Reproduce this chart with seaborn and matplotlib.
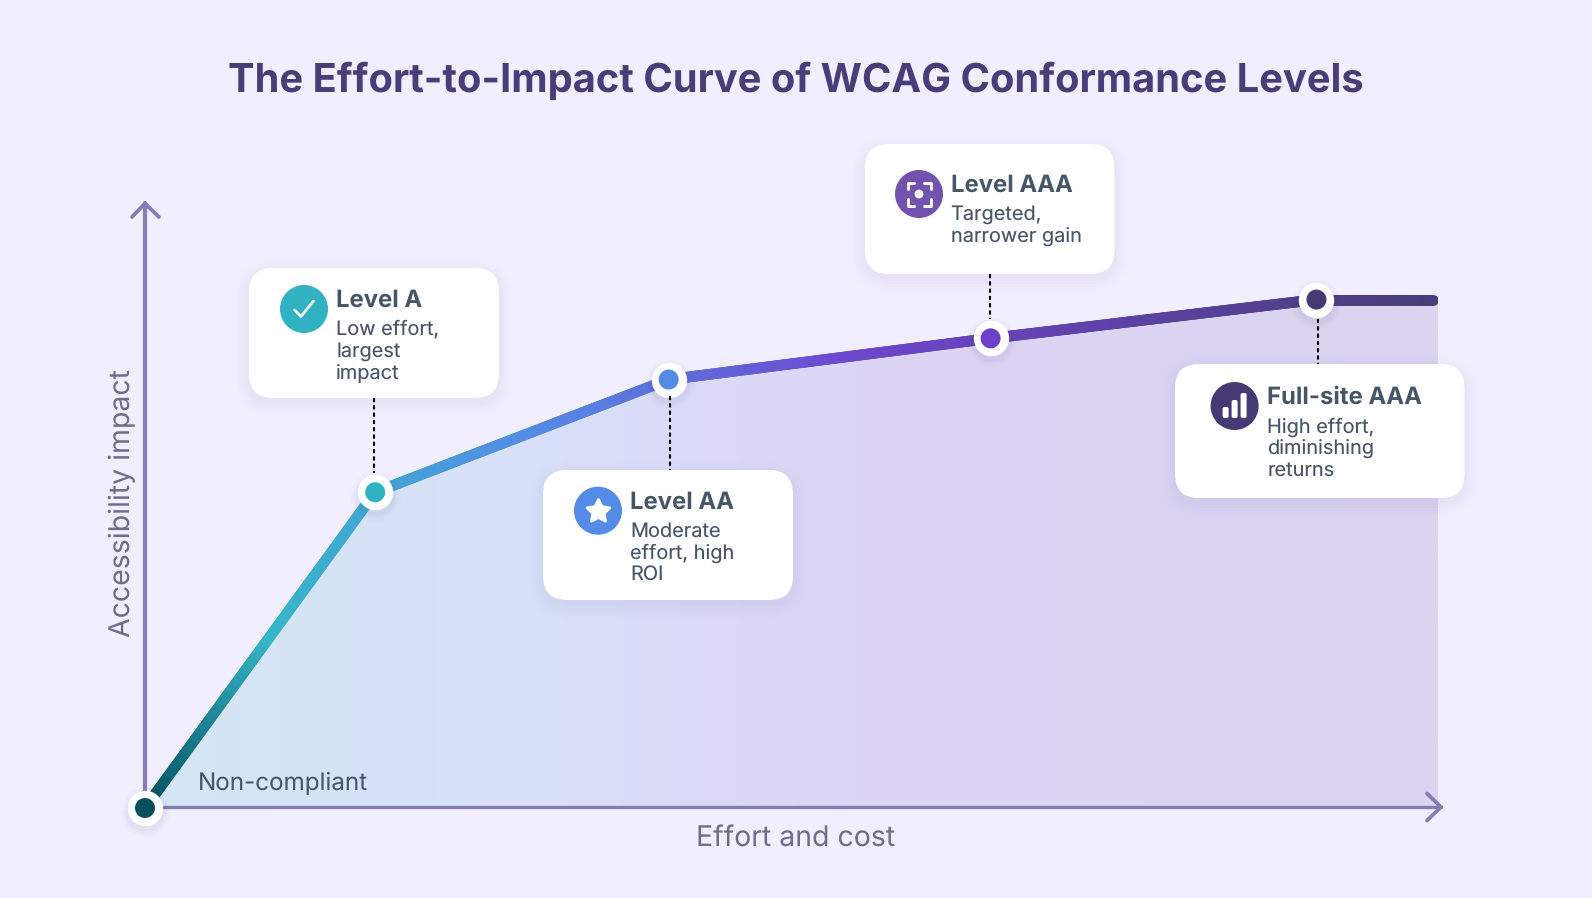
import numpy as np
import pandas as pd
import seaborn as sns
import matplotlib.pyplot as plt
from matplotlib.collections import LineCollection
from matplotlib.colors import LinearSegmentedColormap
from matplotlib.patches import Circle, FancyBboxPatch
from matplotlib.transforms import Affine2D

# values, both axes on a 0-100 scale
effort = [0, 17.8, 40.5, 65.4, 90.6, 100]
impact = [0, 52.1, 70.7, 77.5, 83.9, 83.9]
point_colors = ["#04505E", "#2FB3C2", "#548BE6", "#6E3FCC", "#463A75"]
level_names = ["Level A", "Level AA", "Level AAA", "Full-site AAA"]
level_notes = [
    ["Low effort,", "largest", "impact"],
    ["Moderate", "effort, high", "ROI"],
    ["Targeted,", "narrower gain"],
    ["High effort,", "diminishing", "returns"],
]
icon_colors = ["#31B2C2", "#548BE6", "#7352AE", "#463A75"]

W, H = 1592, 898
BG = "#F1EEFF"
AXIS = "#857BB5"
HEAD = "#475569"
PURPLE = "#483D78"

sns.set_theme(style="white")
plt.rcParams["font.family"] = ["Inter", "DejaVu Sans"]
plt.rcParams["text.hinting"] = "no_hinting"
plt.rcParams["text.hinting_factor"] = 1

df = pd.DataFrame({"effort": effort, "impact": impact})

fig = plt.figure(figsize=(W / 100, H / 100), dpi=100, facecolor=BG)
# origin at 145,808 and top right at 1438,202 in picture pixels
ax = fig.add_axes([145 / W, 1 - 808 / H, (1438 - 145) / W, (808 - 202) / H])
ax.set_xlim(0, 100)
ax.set_ylim(0, 100)
ax.axis("off")

# gradient area under the curve
fill = ax.fill_between(df["effort"], df["impact"], 0, color="none", lw=0)
fill_cmap = LinearSegmentedColormap.from_list(
    "fill", [(0, "#D4E6F5"), (0.3, "#D8E0F9"), (0.55, "#DCD5F6"), (1, "#DAD4F0")])
grad = np.linspace(0, 1, 512).reshape(1, -1)
img = ax.imshow(grad, cmap=fill_cmap, extent=[0, 100, 0, 100], aspect="auto", zorder=1)
img.set_clip_path(fill.get_paths()[0], transform=ax.transData)

# the curve, then the gradient stroke on top of it
sns.lineplot(data=df, x="effort", y="impact", ax=ax, color=point_colors[-1], lw=1,
             zorder=2, errorbar=None, sort=False)
ax.set_xlim(0, 100)
ax.set_ylim(0, 100)
stroke_cmap = LinearSegmentedColormap.from_list(
    "stroke", [(0, "#04505E"), (0.095, "#36B6C8"), (0.3, "#548BE6"), (0.56, "#6E45CC"), (1, "#483D78")])
t = np.linspace(0, 99.6, 700)
y = np.interp(t, effort, impact)
pts = np.column_stack([t, y])
segs = np.stack([pts[:-1], pts[1:]], axis=1)
lc = LineCollection(segs, colors=stroke_cmap(t[:-1] / 100), lw=7.8, capstyle="round", zorder=3)
ax.add_collection(lc)

# marker shadows, white rings, coloured dots
mx, my = effort[:5], impact[:5]
shift = ax.transData + Affine2D().translate(0, -4)
for s, a in [(1300, 0.012), (1100, 0.015), (930, 0.02), (780, 0.025)]:
    ax.scatter(mx, my, s=s, color="#463A75", alpha=a, lw=0, zorder=4, clip_on=False, transform=shift)
sns.scatterplot(x=mx, y=my, s=650, color="white", linewidth=0, ax=ax, zorder=5, clip_on=False)
sns.scatterplot(x=mx, y=my, s=207, hue=point_colors, palette=point_colors, linewidth=0,
                ax=ax, zorder=6, clip_on=False, legend=False)

# overlay in picture pixels for furniture
ov = fig.add_axes([0, 0, 1, 1], zorder=5)
ov.set_xlim(0, W)
ov.set_ylim(H, 0)
ov.axis("off")
ov.patch.set_alpha(0)

# axes with chevron heads
for xs, ys, lw in [([145, 145], [808, 203], 3.0), ([145, 1441], [807, 807], 2.4),
                   ([132, 145, 159], [217, 203.5, 217], 2.7), ([1427, 1441, 1427], [793.5, 807, 820.5], 2.7)]:
    ax.plot(np.array(xs), np.array(ys), color=AXIS, lw=lw, solid_capstyle="round",
            solid_joinstyle="round", transform=ov.transData, zorder=1.5, clip_on=False)

ov.text(796, 81, "The Effort-to-Impact Curve of WCAG Conformance Levels", ha="center", va="center",
        fontsize=28.7, fontweight="bold", color=PURPLE)
ov.text(796, 839, "Effort and cost", ha="center", va="center", fontsize=20.5, color="#6E6C8A")
ov.text(122, 503.5, "Accessibility impact", ha="center", va="center", rotation=90, fontsize=20.5, color="#6E6C8A")
ov.text(198, 790, "Non-compliant", ha="left", va="baseline", fontsize=17.45, color=HEAD)

# dotted connectors between card and point
for x0, y0, y1 in [(374, 398, 473), (670, 396, 470), (990, 274, 319), (1317.5, 319, 364)]:
    ov.plot([x0, x0], [y0, y1], color="black", lw=1.5, ls=(0, (2.0, 1.5)), zorder=1)

cards = [(249, 268, 250, 130), (543, 470, 250, 130), (865, 144, 249.5, 130), (1175, 364, 289.5, 134)]
icons = [(304, 309), (598, 510.7), (919, 194), (1234.6, 406)]
text_x = [336.3, 630, 950.6, 1267.4]
head_y = [306.7, 509, 191.7, 404]
note_y = [335, 536.7, 220, 432.3]


def draw_card(x, y, w, h):
    for grow, a in [(14, 0.004), (11, 0.006), (8, 0.008), (5, 0.010), (2, 0.012)]:
        ov.add_patch(FancyBboxPatch((x - grow, y + 5 - grow), w + 2 * grow, h + 2 * grow,
                                    boxstyle=f"round,pad=0,rounding_size={24 + grow}",
                                    fc="#463A75", ec="none", alpha=a, zorder=2))
    ov.add_patch(FancyBboxPatch((x, y), w, h, boxstyle="round,pad=0,rounding_size=24",
                                fc="white", ec="none", zorder=3))


for i, (c, icon) in enumerate(zip(cards, icons)):
    draw_card(*c)
    ov.add_patch(Circle(icon, 24, fc=icon_colors[i], ec="none", zorder=4))
    ov.text(text_x[i], head_y[i], level_names[i], fontsize=17.2, fontweight="bold", color=HEAD, va="baseline", zorder=5)
    for j, line in enumerate(level_notes[i]):
        ov.text(text_x[i], note_y[i] + j * 21.8, line, fontsize=14.35, color=HEAD, va="baseline", zorder=5)

# icon glyphs
cx, cy = icons[0]
ov.plot([cx - 9.5, cx - 3, cx + 9.5], [cy + 1, cy + 7.5, cy - 8], color="white", lw=1.9,
        solid_capstyle="round", solid_joinstyle="round", zorder=6)
cx, cy = icons[1]
ov.scatter([cx], [cy], marker=(5, 1, 0), s=300, color="white", lw=2, edgecolors="white", zorder=6)
cx, cy = icons[2]
for sx in (-1, 1):
    for sy in (-1, 1):
        ov.plot([cx + sx * 5, cx + sx * 11.5, cx + sx * 11.5], [cy + sy * 11.5, cy + sy * 11.5, cy + sy * 5],
                color="white", lw=2.1, solid_capstyle="round", solid_joinstyle="round", zorder=6)
ov.add_patch(Circle((cx, cy), 4.4, fc="white", ec="none", zorder=6))
cx, cy = icons[3]
for dx, top in [(-9, 1), (0, -6), (9, -13)]:
    ov.add_patch(FancyBboxPatch((cx + dx - 3, cy + top), 6, 12 - top, boxstyle="round,pad=0,rounding_size=2",
                                fc="white", ec="none", zorder=6))

fig.savefig("out.png", dpi=100, facecolor=BG)
